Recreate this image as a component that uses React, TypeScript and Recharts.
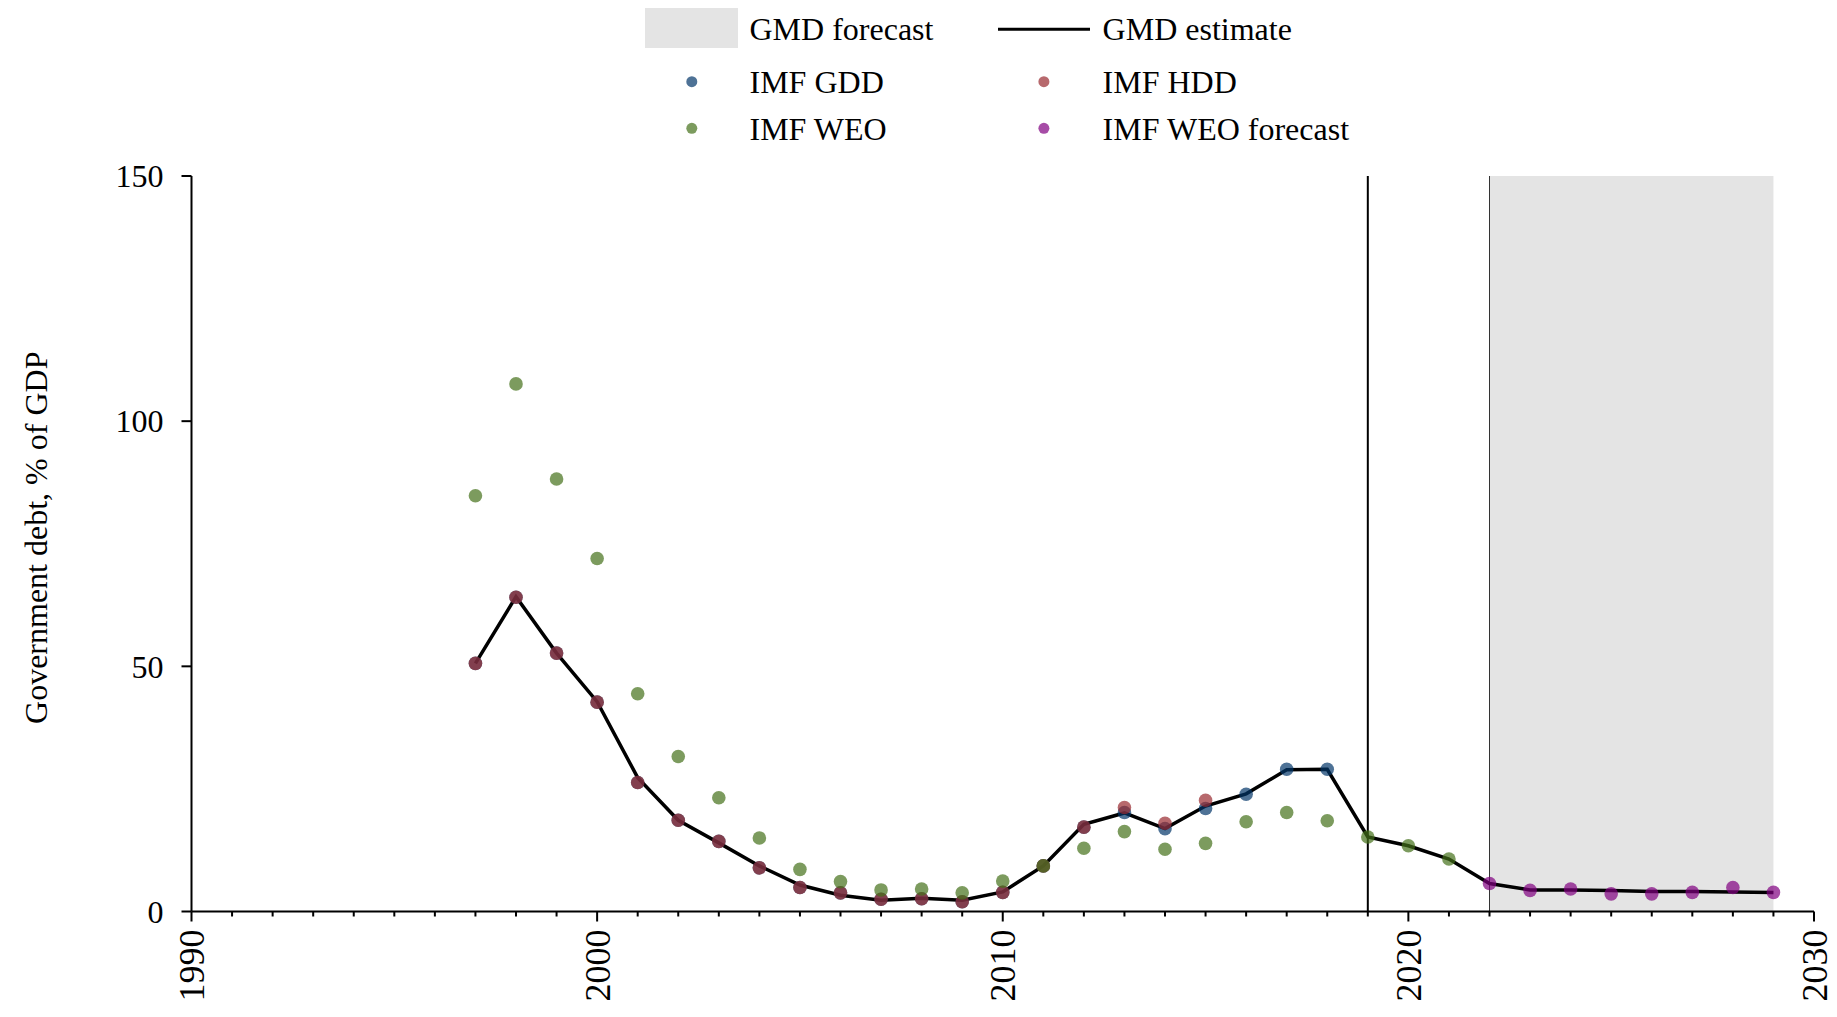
import React from "react";
import {
  ComposedChart,
  Line,
  Scatter,
  XAxis,
  YAxis,
  ReferenceArea,
  ReferenceLine,
  Label,
} from "recharts";

const years = [
  1997, 1998, 1999, 2000, 2001, 2002, 2003, 2004, 2005, 2006, 2007, 2008, 2009,
  2010, 2011, 2012, 2013, 2014, 2015, 2016, 2017, 2018, 2019, 2020, 2021, 2022,
  2023, 2024, 2025, 2026, 2027, 2028, 2029,
];

const gmdEstimate = [
  50.6, 64.2, 52.7, 42.8, 27.3, 18.6, 14.0, 9.3, 5.4, 3.3, 2.3, 2.7, 2.3, 4.0,
  9.3, 17.8, 20.1, 16.9, 21.5, 24.0, 28.9, 29.0, 15.2, 13.4, 10.7, 5.7, 4.4,
  4.4, 4.3, 4.1, 4.1, 4.0, 3.9,
];

const imfGdd = [
  50.6, 64.1, 52.7, 42.7, 26.3, 18.6, 14.3, 8.9, 4.9, 3.8, 2.5, 2.6, 2.0, 3.9,
  9.3, 17.2, 20.2, 16.9, 21.0, 23.9, 29.0, 29.0, null, null, null, null, null,
  null, null, null, null, null, null,
];

const imfHdd = [
  50.6, 64.1, 52.7, 42.7, 26.3, 18.6, 14.3, 8.9, 4.9, 3.8, 2.5, 2.6, 2.0, 3.9,
  9.3, 17.2, 21.2, 18.0, 22.7, null, null, null, null, null, null, null, null,
  null, null, null, null, null, null,
];

const imfWeo = [
  84.8, 107.6, 88.2, 72.0, 44.4, 31.6, 23.2, 15.0, 8.6, 6.1, 4.4, 4.6, 3.8, 6.2,
  9.3, 12.9, 16.3, 12.7, 13.9, 18.3, 20.2, 18.5, 15.2, 13.4, 10.7, null, null,
  null, null, null, null, null, null,
];

const imfWeoForecast = [
  null, null, null, null, null, null, null, null, null, null, null, null, null,
  null, null, null, null, null, null, null, null, null, null, null, null, 5.7,
  4.3, 4.6, 3.6, 3.6, 3.9, 4.9, 3.9,
];

const decadeLabels = [1990, 2000, 2010, 2020, 2030];
const yTicks = [0, 50, 100, 150];
const forecastStart = 2022;
const forecastEnd = 2029;
const breakYear = 2019;

const allYearTicks: number[] = [];
for (let y = 1990; y <= 2030; y++) allYearTicks.push(y);

const rows = (vals: (number | null)[]) =>
  years
    .map((year, i) => ({ year, v: vals[i] }))
    .filter((r) => r.v !== null);

const FONT = "Liberation Serif, Tinos, DejaVu Serif, Noto Serif, serif";

const COLORS = {
  gdd: "#033669",
  hdd: "#99292f",
  weo: "#45701a",
  forecast: "#800080",
};

const dot = (color: string) => (p: any) =>
  <circle cx={p.cx} cy={p.cy} r={6.8} fill={color} fillOpacity={0.7} />;

const XTick = (props: any) => {
  const { x, y, payload } = props;
  const major = decadeLabels.includes(payload.value);
  const ty = y + 18;
  return (
    <g>
      <line x1={x} x2={x} y1={y} y2={y + (major ? 10 : 5)} stroke="#000" strokeWidth={2} />
      {major && (
        <text
          x={x}
          y={ty}
          dy="0.35em"
          transform={`rotate(-90 ${x} ${ty})`}
          textAnchor="end"
          style={{ fontFamily: FONT, fontSize: 36 }}
          fill="#000"
        >
          {payload.value}
        </text>
      )}
    </g>
  );
};

const YTick = (props: any) => {
  const { x, y, payload } = props;
  return (
    <text
      x={x}
      y={y}
      dy="0.35em"
      textAnchor="end"
      style={{ fontFamily: FONT, fontSize: 32 }}
      fill="#000"
    >
      {payload.value}
    </text>
  );
};

const YTitle = (props: any) => {
  const vb = props.viewBox;
  const cx = 28;
  const cy = vb.y + vb.height / 2 - 6;
  return (
    <text
      x={cx}
      y={cy}
      transform={`rotate(-90 ${cx} ${cy})`}
      textAnchor="middle"
      dominantBaseline="central"
      style={{ fontFamily: FONT, fontSize: 32 }}
      fill="#000"
    >
      Government debt, % of GDP
    </text>
  );
};

const LegendBox = () => {
  const t = { style: { fontFamily: FONT, fontSize: 32 }, fill: "#000" };
  return (
    <svg
      width={1829}
      height={150}
      style={{ position: "absolute", left: 0, top: 0, pointerEvents: "none" }}
    >
      <rect x={637} y={0} width={93} height={40} fill="#e4e4e4" />
      <text x={741.5} y={32} {...t}>GMD forecast</text>
      <line x1={990} x2={1082} y1={21.3} y2={21.3} stroke="#000" strokeWidth={3} />
      <text x={1094.6} y={32} {...t}>GMD estimate</text>

      <circle cx={683.8} cy={73.7} r={5.5} fill={COLORS.gdd} fillOpacity={0.7} />
      <text x={741.5} y={85.3} {...t}>IMF GDD</text>
      <circle cx={1035.9} cy={73.7} r={5.5} fill={COLORS.hdd} fillOpacity={0.7} />
      <text x={1094.6} y={85.3} {...t}>IMF HDD</text>

      <circle cx={683.8} cy={120.3} r={5.5} fill={COLORS.weo} fillOpacity={0.7} />
      <text x={741.5} y={132} {...t}>IMF WEO</text>
      <circle cx={1035.9} cy={120.3} r={5.5} fill={COLORS.forecast} fillOpacity={0.7} />
      <text x={1094.6} y={132} {...t}>IMF WEO forecast</text>
    </svg>
  );
};

export default function App() {
  return (
    <div style={{ position: "relative", width: 1829, height: 1001 }}>
      <ComposedChart
        width={1829}
        height={1001}
        margin={{ top: 168, right: 23, left: 0, bottom: 7.5 }}
      >
        <XAxis
          dataKey="year"
          type="number"
          domain={[1990, 2030]}
          ticks={allYearTicks}
          interval={0}
          allowDataOverflow
          height={90}
          tickSize={0}
          tickMargin={0}
          tickLine={false}
          tick={<XTick />}
          axisLine={{ stroke: "#000", strokeWidth: 2 }}
        />
        <YAxis
          type="number"
          domain={[0, 150]}
          ticks={yTicks}
          width={183.5}
          tickSize={10}
          tickMargin={18}
          tickLine={{ stroke: "#000", strokeWidth: 2 }}
          axisLine={{ stroke: "#000", strokeWidth: 2 }}
          tick={<YTick />}
        >
          <Label content={<YTitle />} />
        </YAxis>

        <ReferenceArea
          x1={forecastStart}
          x2={forecastEnd}
          y1={0}
          y2={150}
          fill="#e4e4e4"
          fillOpacity={1}
          stroke="none"
        />
        <ReferenceLine x={forecastStart} stroke="#333" strokeWidth={1} />
        <ReferenceLine x={breakYear} stroke="#000" strokeWidth={2} />

        <Line
          data={rows(gmdEstimate)}
          dataKey="v"
          type="linear"
          stroke="#000"
          strokeWidth={3.5}
          dot={false}
          isAnimationActive={false}
        />
        <Scatter data={rows(imfGdd)} dataKey="v" shape={dot(COLORS.gdd)} isAnimationActive={false} />
        <Scatter data={rows(imfHdd)} dataKey="v" shape={dot(COLORS.hdd)} isAnimationActive={false} />
        <Scatter data={rows(imfWeo)} dataKey="v" shape={dot(COLORS.weo)} isAnimationActive={false} />
        <Scatter
          data={rows(imfWeoForecast)}
          dataKey="v"
          shape={dot(COLORS.forecast)}
          isAnimationActive={false}
        />
      </ComposedChart>
      <LegendBox />
    </div>
  );
}
